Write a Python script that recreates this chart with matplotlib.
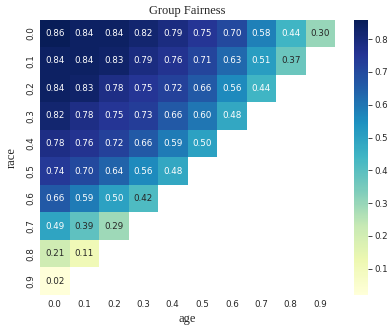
import numpy as np
import matplotlib
matplotlib.use("Agg")
import matplotlib.pyplot as plt
import seaborn as sns

# fairness score per (race, age) weight pair; upper-right triangle is undefined
age_levels = ["0.0", "0.1", "0.2", "0.3", "0.4", "0.5", "0.6", "0.7", "0.8", "0.9"]
race_levels = ["0.0", "0.1", "0.2", "0.3", "0.4", "0.5", "0.6", "0.7", "0.8", "0.9"]

row_00 = [0.86, 0.84, 0.84, 0.82, 0.79, 0.75, 0.70, 0.58, 0.44, 0.30]
row_01 = [0.84, 0.84, 0.83, 0.79, 0.76, 0.71, 0.63, 0.51, 0.37]
row_02 = [0.84, 0.83, 0.78, 0.75, 0.72, 0.66, 0.56, 0.44]
row_03 = [0.82, 0.78, 0.75, 0.73, 0.66, 0.60, 0.48]
row_04 = [0.78, 0.76, 0.72, 0.66, 0.59, 0.50]
row_05 = [0.74, 0.70, 0.64, 0.56, 0.48]
row_06 = [0.66, 0.59, 0.50, 0.42]
row_07 = [0.49, 0.39, 0.29]
row_08 = [0.21, 0.11]
row_09 = [0.02]

rows = [row_00, row_01, row_02, row_03, row_04,
        row_05, row_06, row_07, row_08, row_09]

n = len(age_levels)
scores = np.full((n, n), np.nan)
for i, r in enumerate(rows):
    scores[i, :len(r)] = r
mask = np.isnan(scores)

sns.set_style("white")

fig = plt.figure(figsize=(3.89, 3.27), dpi=100)
ax = fig.add_axes([40 / 389, 1 - 295 / 327, 295 / 389, 275.5 / 327])
cax = fig.add_axes([354 / 389, 1 - 295 / 327, 14 / 389, 275.5 / 327])

sns.heatmap(scores, mask=mask, cmap="YlGnBu", annot=True, fmt=".2f",
            annot_kws={"size": 6.3}, ax=ax, cbar_ax=cax,
            xticklabels=age_levels, yticklabels=race_levels)

ax.tick_params(axis="both", length=0, labelsize=6.3, colors="#262626")
ax.set_yticklabels(race_levels, rotation=90, va="center")
ax.set_xticklabels(age_levels, rotation=0)

serif = {"family": "Liberation Serif", "size": 9}
ax.set_title("Group Fairness", fontdict=serif, pad=4)
ax.set_xlabel("age", fontdict=serif, labelpad=3)
ax.set_ylabel("race", fontdict=serif, labelpad=6)

cax.tick_params(labelsize=6.2, length=3, width=0.6, pad=1.5, colors="#262626")
for s in cax.spines.values():
    s.set_visible(False)

fig.savefig("out.png", dpi=100)
